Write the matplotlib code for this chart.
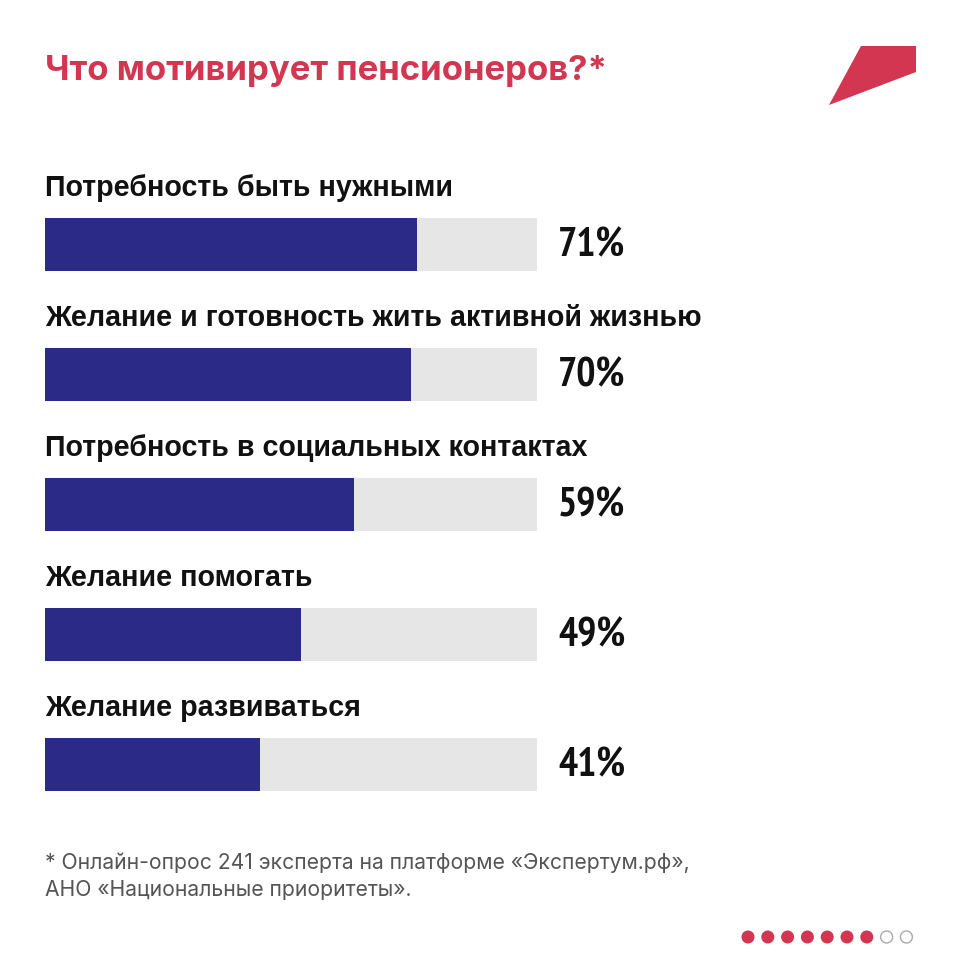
import matplotlib
matplotlib.use("Agg")
import matplotlib.pyplot as plt
from matplotlib.patches import Polygon, Circle
from matplotlib import font_manager

categories = [
    "Потребность быть нужными",
    "Желание и готовность жить активной жизнью",
    "Потребность в социальных контактах",
    "Желание помогать",
    "Желание развиваться",
]
values = [71, 70, 59, 49, 41]
value_labels = ["71%", "70%", "59%", "49%", "41%"]
scale_max = 94

title = "Что мотивирует пенсионеров?*"
footnote = "* Онлайн-опрос 241 эксперта на платформе «Экспертум.рф»,\nАНО «Национальные приоритеты»."
pages_total = 9
pages_done = 7

RED = "#D23650"
BLUE = "#2C2A87"
TRACK = "#E6E6E6"

# narrow bold face for the percentages: prefer "Narrow", then "Condensed"
narrow = None
for key in ("narrow", "condensed"):
    for f in font_manager.fontManager.ttflist:
        fn = f.fname.lower()
        if key in fn and "bold" in fn and "oblique" not in fn and "italic" not in fn:
            narrow = f.fname
            break
    if narrow:
        break

fig = plt.figure(figsize=(9.6, 9.6), dpi=100)
fig.patch.set_facecolor("white")

bg = fig.add_axes([0, 0, 1, 1])
bg.set_xlim(0, 960)
bg.set_ylim(960, 0)
bg.axis("off")

bg.text(45, 71, title, color=RED, fontsize=25, fontweight="bold",
        family="Inter", va="center", ha="left")
bg.add_patch(Polygon([(861, 46), (916, 46), (916, 72), (829, 105)],
                     closed=True, color=RED, lw=0))

ax = fig.add_axes([45 / 960, 0, 492 / 960, 1])
ax.set_xlim(0, scale_max)
ax.set_ylim(960, 0)
ax.axis("off")

if narrow:
    fp = font_manager.FontProperties(fname=narrow, size=29)
else:
    fp = font_manager.FontProperties(family="Roboto", weight="bold", size=26)

for i, (cat, v, lab) in enumerate(zip(categories, values, value_labels)):
    yc = 244.5 + i * 130
    ax.barh(yc, scale_max, height=53, color=TRACK, lw=0)
    ax.barh(yc, v, height=53, color=BLUE, lw=0)
    ax.text(0, yc - 57, cat, fontsize=20.6, fontweight="bold", family="Liberation Sans",
            color="#111111", va="center", ha="left")
    ax.text(scale_max * 1.043, yc + 1, lab, fontproperties=fp, color="#111111",
            va="center", ha="left")

bg.text(45, 876, footnote, color="#555555", fontsize=15.2, family="Inter",
        va="center", ha="left", linespacing=1.45)

for k in range(pages_total):
    cx = 748 + k * 19.8
    if k < pages_done:
        bg.add_patch(Circle((cx, 937), 6.5, color=RED, lw=0))
    else:
        bg.add_patch(Circle((cx, 937), 6, facecolor="white",
                            edgecolor="#AAAAAA", lw=1))

fig.savefig("out.png", dpi=100, facecolor="white")
